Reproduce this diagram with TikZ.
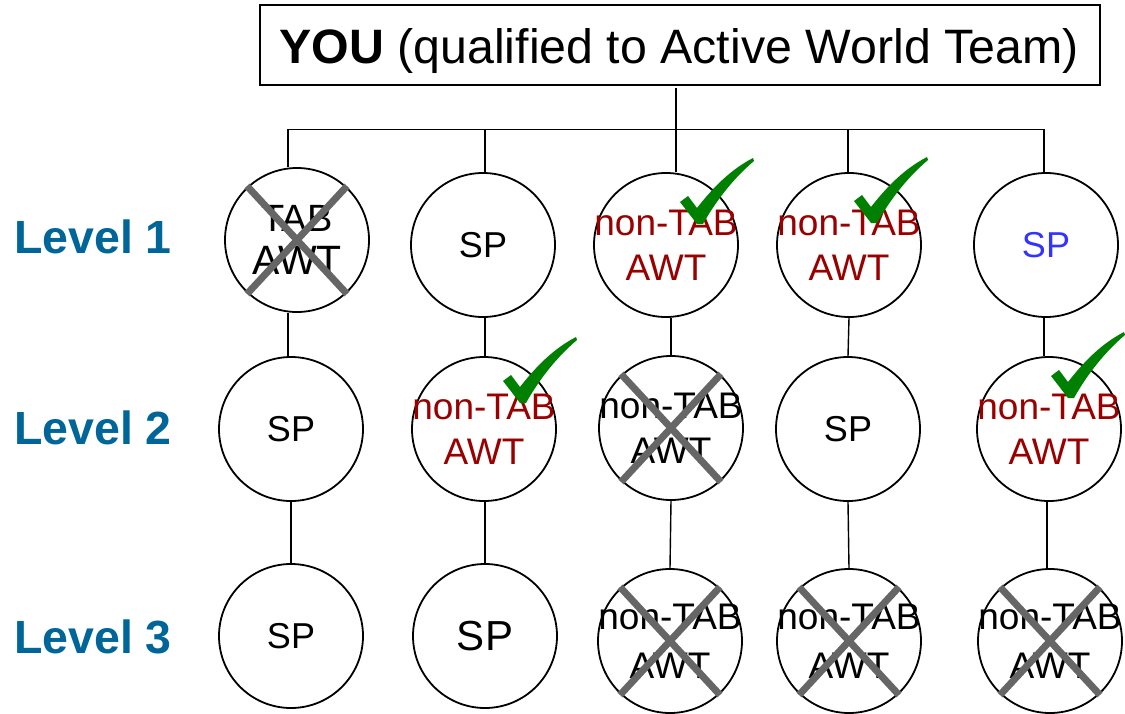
\documentclass[tikz,border=0pt]{standalone}
\usepackage{fontspec}
\setmainfont{Liberation Sans}
\definecolor{awtred}{RGB}{153,0,0}
\definecolor{spblue}{RGB}{51,51,255}
\definecolor{chkgreen}{RGB}{0,128,0}
\definecolor{crossgray}{RGB}{102,102,102}
\definecolor{lvlblue}{RGB}{0,102,153}
\newcommand\myX[1]{%
  \draw[crossline] ([shift={(-50bp,54bp)}]#1.center) -- ([shift={(50bp,-54bp)}]#1.center);
  \draw[crossline] ([shift={(50bp,54bp)}]#1.center) -- ([shift={(-50bp,-54bp)}]#1.center);}
\begin{document}
\begin{tikzpicture}[x=1bp,y=-1bp,
  ball/.style={circle,draw=black,line width=1.8bp,minimum size=144bp,inner sep=0pt},
  txt/.style={align=center,inner sep=0pt,font=\fontsize{37bp}{45bp}\selectfont},
  sptxt/.style={inner sep=0pt,font=\fontsize{36bp}{43bp}\selectfont},
  lvl/.style={anchor=west,inner sep=0pt,text=lvlblue,font=\fontsize{46.5bp}{54bp}\selectfont\bfseries},
  conn/.style={draw=black,line width=1.4bp},
  crossline/.style={draw=crossgray,line width=7bp},
  chk/.pic={\fill[chkgreen] (0,1) -- (-17,-21) -- (-9,-27) -- (0,-15) .. controls (18,-38) and (35,-54) .. (56,-65) -- (57,-62) .. controls (38,-46) and (20,-24) .. (6,1) -- cycle;}
]
\useasboundingbox (0,0) rectangle (1125,714);

% title
\node[draw=black,line width=1.8bp,minimum width=840bp,minimum height=80bp,inner sep=0pt] (you) at (680,45) {};
\node[anchor=base,inner sep=0pt,font=\fontsize{48.3bp}{58bp}\selectfont] (youtxt) at (679,63.3) {\textbf{YOU} (qualified to Active World Team)};

% level labels
\node[lvl] (l1) at (14,237) {Level 1};
\node[lvl] (l2) at (14,428) {Level 2};
\node[lvl] (l3) at (14,637) {Level 3};

% circles
\node[ball] (r1c1) at (297,240) {};
\node[ball] (r1c2) at (483,245) {};
\node[ball] (r1c3) at (666,245) {};
\node[ball] (r1c4) at (849,245) {};
\node[ball] (r1c5) at (1046,245) {};
\node[ball] (r2c1) at (291,429) {};
\node[ball] (r2c2) at (484,429) {};
\node[ball] (r2c3) at (671,428) {};
\node[ball] (r2c4) at (848,429) {};
\node[ball] (r2c5) at (1049,429) {};
\node[ball] (r3c1) at (291,636) {};
\node[ball] (r3c2) at (485,636) {};
\node[ball] (r3c3) at (670,641) {};
\node[ball] (r3c4) at (849,641) {};
\node[ball] (r3c5) at (1050,641) {};

% connectors
\coordinate (top) at (676,88);
\coordinate (bl) at (288,129.3);
\coordinate (b2) at (485,129.3);
\coordinate (b4) at (848,129.3);
\coordinate (br) at (1044,129.3);
\coordinate (c5) at (1047,500);
\draw[conn] (top) -- (top |- r1c3.north);
\draw[conn] (bl) -- (br);
\draw[conn] (bl) -- (bl |- r1c1.north);
\draw[conn] (b2) -- (b2 |- r1c2.north);
\draw[conn] (b4) -- (b4 |- r1c4.north);
\draw[conn] (br) -- (br |- r1c5.north);
\draw[conn] (r1c1.south -| bl) -- (r2c1.north -| bl);
\draw[conn] (r1c2.south -| b2) -- (r2c2.north -| b2);
\draw[conn] (r2c3.north |- r1c3.south) -- (r2c3.north);
\draw[conn] (r1c4.south) -- (r2c4.north);
\draw[conn] (r1c5.south -| br) -- (r2c5.north -| br);
\draw[conn] (r2c1.south) -- (r3c1.north);
\draw[conn] (r2c2.south -| b2) -- (r3c2.north);
\draw[conn] (r2c3.south) -- (r3c3.north);
\draw[conn] (r2c4.south) -- (r3c4.north);
\draw[conn] (r2c5.south -| c5) -- (r3c5.north -| c5);

% texts
\node[txt,font=\fontsize{38bp}{43bp}\selectfont] (t11) at (r1c1) {TAB\\\fontsize{41bp}{43bp}\selectfont AWT};
\node[sptxt] (t12) at (r1c2) {SP};
\node[txt,text=awtred] (t13) at (r1c3) {non-TAB\\AWT};
\node[txt,text=awtred] (t14) at (r1c4) {non-TAB\\AWT};
\node[sptxt,text=spblue] (t15) at (r1c5) {SP};
\node[sptxt] (t21) at (r2c1) {SP};
\node[txt,text=awtred] (t22) at (r2c2) {non-TAB\\AWT};
\node[txt] (t23) at (r2c3) {non-TAB\\AWT};
\node[sptxt] (t24) at (r2c4) {SP};
\node[txt,text=awtred] (t25) at (r2c5) {non-TAB\\AWT};
\node[sptxt] (t31) at (r3c1) {SP};
\node[sptxt,font=\fontsize{42bp}{50bp}\selectfont] (t32) at (r3c2) {SP};
\node[txt,font=\fontsize{37bp}{49bp}\selectfont] (t33) at (r3c3) {non-TAB\\AWT};
\node[txt,font=\fontsize{37bp}{49bp}\selectfont] (t34) at (r3c4) {non-TAB\\AWT};
\node[txt,font=\fontsize{37bp}{49bp}\selectfont] (t35) at (r3c5) {non-TAB\\AWT};

% crosses
\myX{r1c1}
\myX{r2c3}
\myX{r3c3}
\myX{r3c4}
\myX{r3c5}

% checkmarks
\pic at (697,223) {chk};
\pic at (871,222) {chk};
\pic at (520,402) {chk};
\pic at (1068,397) {chk};
\end{tikzpicture}
\end{document}
